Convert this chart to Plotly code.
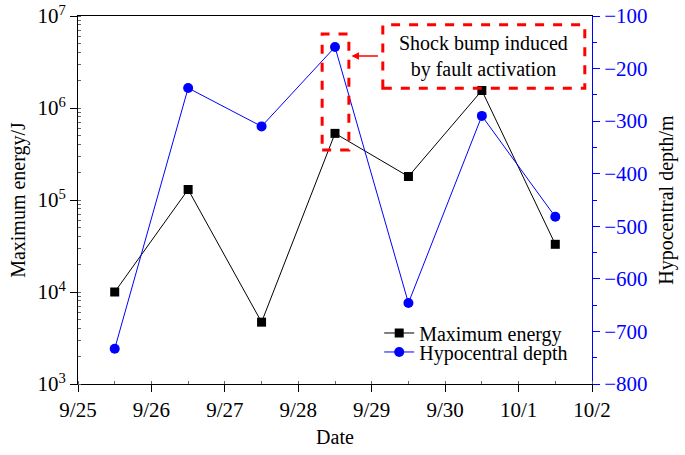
import plotly.graph_objects as go

dates = ["2020-09-25 12:00", "2020-09-26 12:00", "2020-09-27 12:00", "2020-09-28 12:00",
         "2020-09-29 12:00", "2020-09-30 12:00", "2020-10-01 12:00"]
max_energy = [1.0e4, 1.3e5, 4.7e3, 5.3e5, 1.8e5, 1.55e6, 3.3e4]
hypo_depth = [-733, -237, -310, -159, -646, -290, -482]
energy_ticks = [1e3, 1e4, 1e5, 1e6, 1e7]
energy_ticktext = ["10<sup>3</sup>", "10<sup>4</sup>", "10<sup>5</sup>", "10<sup>6</sup>", "10<sup>7</sup>"]

FONT = "Liberation Serif"
BLUE = "#0000ff"
RED = "#ff0000"

fig = go.Figure()
fig.add_trace(go.Scatter(x=dates, y=max_energy, name="Maximum energy", mode="lines+markers",
                         line=dict(color="black", width=1), legend="legend",
                         marker=dict(symbol="square", size=9, color="black")))
fig.add_trace(go.Scatter(x=dates, y=hypo_depth, name="Hypocentral depth", mode="lines+markers",
                         yaxis="y2", line=dict(color=BLUE, width=1), legend="legend2",
                         marker=dict(symbol="circle", size=10, color=BLUE)))

fig.update_layout(
    width=685, height=455,
    margin=dict(l=78, r=93, t=16, b=71),
    plot_bgcolor="white", paper_bgcolor="white",
    font=dict(family=FONT, size=20, color="black"),
    showlegend=True,
    legend=dict(x=0.586, y=0.1386, xanchor="left", yanchor="middle", bgcolor="rgba(0,0,0,0)",
                font=dict(size=20)),
    legend2=dict(x=0.586, y=0.087, xanchor="left", yanchor="middle", bgcolor="rgba(0,0,0,0)",
                 font=dict(size=20)),
    xaxis=dict(
        type="date", range=["2020-09-25", "2020-10-02"], automargin=False,
        dtick=86400000, tick0="2020-09-25", tickformat="%-m/%-d",
        showgrid=False, showline=True, linecolor="black", linewidth=1, mirror=True,
        ticks="outside", ticklen=7, tickcolor="black",
        minor=dict(dtick=43200000, ticks="inside", ticklen=3, tickcolor="#666666"),
        title=dict(text="Date", font=dict(size=20), standoff=8),
        tickfont=dict(size=21), zeroline=False,
    ),
    yaxis=dict(
        type="log", range=[3, 7], tickvals=energy_ticks, ticktext=energy_ticktext, automargin=False,
        showgrid=False, showline=True, linecolor="black", linewidth=1,
        ticks="outside", ticklen=7, tickcolor="black",
        minor=dict(ticks="inside", ticklen=3, tickcolor="#666666", dtick="D1"),
        title=dict(text="Maximum energy/J", font=dict(size=20), standoff=6),
        tickfont=dict(size=21), zeroline=False,
    ),
    yaxis2=dict(
        overlaying="y", side="right", range=[-800, -100], dtick=100, automargin=False,
        showgrid=False, showline=True, linecolor=BLUE, linewidth=1,
        ticks="outside", ticklen=7, tickcolor=BLUE,
        minor=dict(dtick=50, ticks="outside", ticklen=4, tickcolor=BLUE),
        tickfont=dict(size=21, color=BLUE),
        title=dict(text="Hypocentral depth/m", font=dict(size=20, color="black"), standoff=12),
        zeroline=False,
    ),
)

# highlight box around the fault-activation event
fig.add_shape(type="rect", xref="paper", yref="paper", x0=0.475, x1=0.527, y0=0.636, y1=0.951,
              line=dict(color=RED, width=3, dash="dash"))
# text box
fig.add_shape(type="rect", xref="paper", yref="paper", x0=0.593, x1=0.986, y0=0.804, y1=0.976,
              line=dict(color=RED, width=3, dash="dash"))
fig.add_annotation(xref="paper", yref="paper", x=0.7895, y=0.89, xanchor="center", yanchor="middle",
                   text="Shock bump induced<br>by fault activation",
                   showarrow=False, font=dict(family=FONT, size=20, color="black"), align="center")
fig.add_annotation(xref="paper", yref="paper", x=0.532, y=0.891, ax=28, ay=0,
                   text="", showarrow=True,
                   arrowhead=2, arrowsize=1, arrowwidth=1.5, arrowcolor=RED)

fig.write_html("out.html", config={"displayModeBar": False},
               post_script="document.body.style.margin='0';document.body.style.padding='0';")
